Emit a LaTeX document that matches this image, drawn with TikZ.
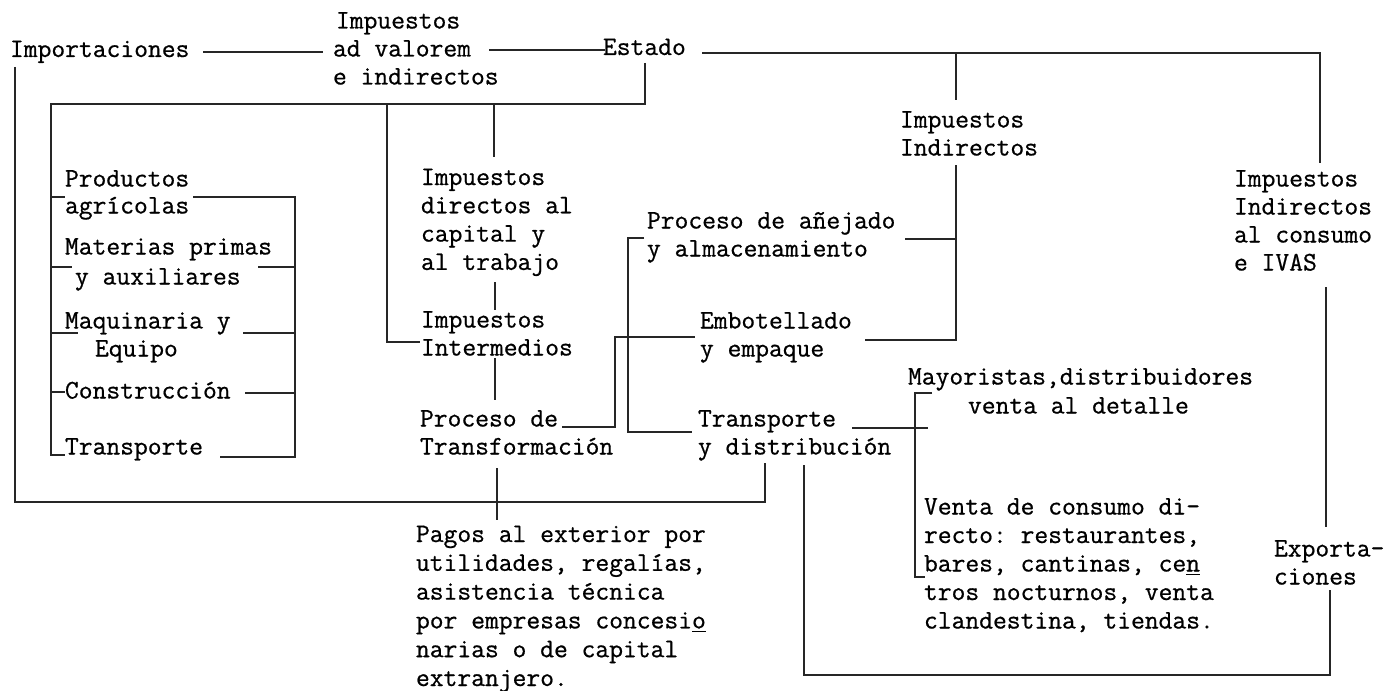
\documentclass[tikz,border=0pt]{standalone}
\usepackage{fontspec}
\setmonofont{lmmono12-regular.otf}[FakeBold=0.7]
\newcommand\mlines[2]{\vtop{\baselineskip=#1\lineskiplimit=-\maxdimen\lineskip=0pt%
  \def\\{\egroup\hbox\bgroup}\hbox\bgroup#2\egroup}}
\begin{document}
\begin{tikzpicture}[x=0.5pt,y=-0.5pt,
  lbl/.style={anchor=base west,inner sep=0pt,outer sep=0pt,
    font=\fontsize{13.4}{14}\selectfont\ttfamily},
  conn/.style={draw=black!85,line width=0.8pt}]
\fill[white] (0,0) rectangle (1385,690);
\useasboundingbox (0,0) rectangle (1385,690);

% ---------- labels (placed at first-line baseline) ----------
\node[lbl] (imp)  at (10,57)     {Importaciones};
\node[lbl] (adv)  at (333,28.5)  {\mlines{14pt}{\hspace*{1.5pt}Impuestos\\ad valorem\\e indirectos}};
\node[lbl] (est)  at (603,55)    {Estado};
\node[lbl] (ii)   at (900,127.5) {\mlines{14pt}{Impuestos\\Indirectos}};
\node[lbl] (iic)  at (1234,186.5){\mlines{14pt}{Impuestos\\Indirectos\\al consumo\\e IVAS}};
\node[lbl] (prod) at (65,186.5)  {\mlines{13.5pt}{Productos\\agrícolas}};
\node[lbl] (mat)  at (65,254.5)  {\mlines{15pt}{Materias primas\\\hspace*{5pt}y auxiliares}};
\node[lbl] (maq)  at (65,328.5)  {\mlines{14pt}{Maquinaria y\\\hspace*{15pt}Equipo}};
\node[lbl] (cons) at (65,398.5)  {Construcción};
\node[lbl] (tra)  at (65,454.5)  {Transporte};
\node[lbl] (idc)  at (421,185)   {\mlines{14.15pt}{Impuestos\\directos al\\capital y\\al trabajo}};
\node[lbl] (iint) at (421,327.5) {\mlines{14pt}{Impuestos\\Intermedios}};
\node[lbl] (pdt)  at (420,426.5) {\mlines{14pt}{Proceso de\\Transformación}};
\node[lbl] (pag)  at (416,542)   {\mlines{14.4pt}{Pagos al exterior por\\utilidades, regalías,\\asistencia técnica\\por empresas concesi\underline{o}\\narias o de capital\\extranjero.}};
\node[lbl] (pan)  at (647,228.5) {\mlines{14pt}{Proceso de añejado\\y almacenamiento}};
\node[lbl] (emb)  at (700,328.5) {\mlines{14pt}{Embotellado\\y empaque}};
\node[lbl] (trd)  at (698,426.5) {\mlines{14pt}{Transporte\\y distribución}};
\node[lbl] (may)  at (908,384.5) {\mlines{14.5pt}{Mayoristas,distribuidores\\\hspace*{30pt}venta al detalle}};
\node[lbl] (vcd)  at (924,514.5) {\mlines{14.25pt}{Venta de consumo di-\\recto: restaurantes,\\bares, cantinas, ce\underline{n}\\tros nocturnos, venta\\clandestina, tiendas.}};
\node[lbl] (exp)  at (1274,556.5){\mlines{14pt}{Exporta-\\ciones}};

% ---------- junction coordinates ----------
\coordinate (impR) at (203,52);   \coordinate (advL) at (323,52);
\coordinate (advR) at (489,50);   \coordinate (estL) at (605,50);
\coordinate (estR) at (702,53);   \coordinate (jII) at (956,53);  \coordinate (jIVA) at (1320,53);
\coordinate (iiT) at (956,100);   \coordinate (ivaT) at (1320,163);
\coordinate (estB) at (645,63);   \coordinate (estC) at (645,104);
\coordinate (inT) at (51,104);    \coordinate (inB) at (51,455);
\coordinate (jint) at (387,104);  \coordinate (intC) at (387,342); \coordinate (intR) at (420,342);
\coordinate (jdir) at (494,104);  \coordinate (dirT) at (494,157);
\coordinate (impB) at (15,67);    \coordinate (obl) at (15,502);   \coordinate (obr) at (765,502); \coordinate (trdB) at (765,463);
% left box
\coordinate (agL) at (65,197);   \coordinate (agR) at (193,197);  \coordinate (bxT) at (295,197);
\coordinate (maL) at (72,267);   \coordinate (maR) at (258,267);  \coordinate (bxM) at (295,267);
\coordinate (mqL) at (78,333);   \coordinate (mqR) at (243,333);  \coordinate (bxQ) at (295,333);
\coordinate (coL) at (65,392);   \coordinate (coR) at (245,393);  \coordinate (bxC) at (295,393);
\coordinate (trL) at (65,455);   \coordinate (trR) at (220,457);  \coordinate (bxB) at (295,457);
% middle column
\coordinate (dirB) at (495,282); \coordinate (intT) at (495,310);
\coordinate (intB) at (495,358); \coordinate (pdtT) at (495,400);
\coordinate (pdtB) at (497,468); \coordinate (pagT) at (497,520);
\coordinate (pdtR) at (562,427); \coordinate (k1) at (615,427); \coordinate (k2) at (615,337); \coordinate (embL) at (695,337);
\coordinate (panL) at (644,238); \coordinate (m1) at (628,238); \coordinate (m2) at (628,432); \coordinate (trdL) at (692,432);
\coordinate (panR) at (905,239); \coordinate (iiA) at (956,239);
\coordinate (embR) at (865,340); \coordinate (iiE) at (956,340); \coordinate (iiB) at (956,165);
\coordinate (trdR) at (852,428); \coordinate (mayX) at (928,428);
\coordinate (mayS) at (932,393); \coordinate (mayT) at (915,393); \coordinate (mayB) at (915,577); \coordinate (vcdS) at (925,577);
\coordinate (trdB2) at (804,465); \coordinate (rbl) at (804,675); \coordinate (rbr) at (1330,675); \coordinate (expB) at (1330,590);
\coordinate (ivaB) at (1326,287); \coordinate (expT) at (1326,527);

% ---------- connectors ----------
\draw[conn] (impR) -- (advL);
\draw[conn] (advR) -- (estL);
\draw[conn] (estR) -- (jIVA) -- (ivaT);
\draw[conn] (jII) -- (iiT);
\draw[conn] (estB) -- (estC) -- (inT) -- (inB) -- (trL);
\draw[conn] (jint) -- (intC) -- (intR);
\draw[conn] (jdir) -- (dirT);
\draw[conn] (impB) -- (obl) -- (obr) -- (trdB);
\draw[conn] (51,197) -- (agL);
\draw[conn] (51,267) -- (maL);
\draw[conn] (51,333) -- (mqL);
\draw[conn] (51,392) -- (coL);
\draw[conn] (agR) -- (bxT) -- (bxB) -- (trR);
\draw[conn] (maR) -- (bxM);
\draw[conn] (mqR) -- (bxQ);
\draw[conn] (coR) -- (bxC);
\draw[conn] (dirB) -- (intT);
\draw[conn] (intB) -- (pdtT);
\draw[conn] (pdtB) -- (pagT);
\draw[conn] (pdtR) -- (k1) -- (k2) -- (embL);
\draw[conn] (panL) -- (m1) -- (m2) -- (trdL);
\draw[conn] (panR) -- (iiA);
\draw[conn] (embR) -- (iiE) -- (iiB);
\draw[conn] (trdR) -- (mayX);
\draw[conn] (mayS) -- (mayT) -- (mayB) -- (vcdS);
\draw[conn] (trdB2) -- (rbl) -- (rbr) -- (expB);
\draw[conn] (ivaB) -- (expT);
\end{tikzpicture}
\end{document}
